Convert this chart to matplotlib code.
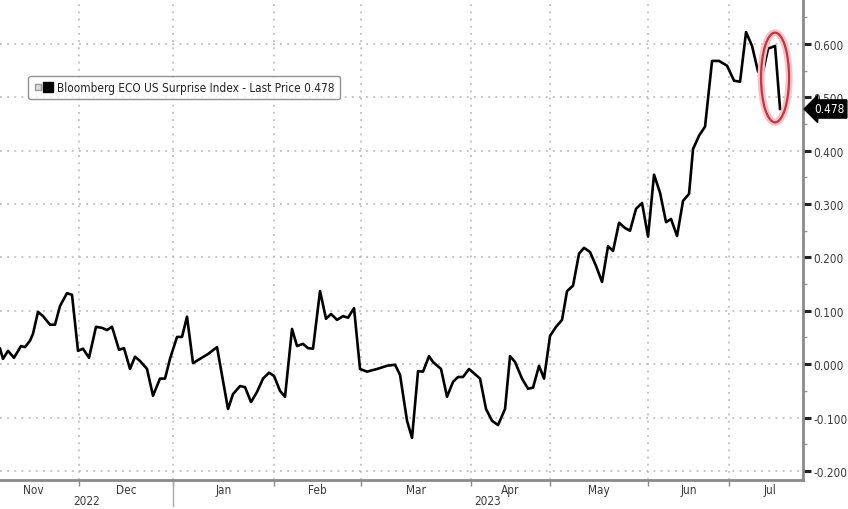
import matplotlib
matplotlib.use("Agg")
import matplotlib.pyplot as plt
import matplotlib.transforms as mtransforms
from matplotlib.patches import Ellipse
from matplotlib.lines import Line2D
from matplotlib.legend_handler import HandlerTuple
from matplotlib.ticker import MultipleLocator, FixedLocator, NullFormatter, FixedFormatter

# ---- data (x = position along the session axis, y = index value) ----
pos = [0, 3, 8, 14, 21, 25, 30, 33, 38, 43,
       50, 55, 60, 67, 72, 78, 83, 89, 96, 102,
       107, 112, 119, 124, 130, 135, 140, 147, 153, 160,
       165, 170, 177, 182, 187, 193, 200, 208, 217, 228,
       233, 240, 245, 251, 257, 263, 269, 274, 280, 285,
       292, 297, 303, 308, 313, 320, 326, 331, 337, 343,
       348, 354, 360, 367, 377, 387, 395, 400, 407, 412,
       418, 423, 429, 433, 441, 447, 453, 458, 463, 469,
       480, 486, 492, 498, 505, 510, 515, 522, 528, 533,
       539, 544, 550, 556, 562, 567, 573, 579, 584, 590,
       596, 602, 608, 613, 619, 625, 630, 636, 642, 648,
       654, 660, 666, 671, 677, 683, 689, 693, 699, 705,
       712, 719, 727, 734, 740, 746, 752, 758, 763, 768,
       775, 780]
values = [0.029, 0.010, 0.025, 0.012, 0.034, 0.032, 0.044, 0.057, 0.098, 0.090,
          0.074, 0.074, 0.109, 0.133, 0.130, 0.025, 0.029, 0.012, 0.070, 0.068,
          0.064, 0.070, 0.027, 0.030, -0.009, 0.014, 0.006, -0.009, -0.059, -0.027,
          -0.027, 0.010, 0.051, 0.051, 0.089, 0.002, 0.010, 0.019, 0.032, -0.084,
          -0.056, -0.041, -0.043, -0.071, -0.052, -0.027, -0.016, -0.022, -0.050, -0.061,
          0.066, 0.034, 0.038, 0.030, 0.029, 0.137, 0.085, 0.094, 0.083, 0.090,
          0.087, 0.105, -0.009, -0.014, -0.009, -0.003, -0.001, -0.020, -0.106, -0.138,
          -0.013, -0.014, 0.015, 0.004, -0.009, -0.061, -0.033, -0.024, -0.024, -0.009,
          -0.027, -0.084, -0.106, -0.114, -0.084, 0.015, 0.004, -0.027, -0.046, -0.044,
          -0.003, -0.027, 0.053, 0.070, 0.083, 0.137, 0.147, 0.207, 0.218, 0.210,
          0.184, 0.154, 0.221, 0.212, 0.265, 0.255, 0.250, 0.291, 0.302, 0.239,
          0.355, 0.321, 0.266, 0.272, 0.240, 0.306, 0.319, 0.403, 0.428, 0.445,
          0.568, 0.568, 0.559, 0.531, 0.529, 0.622, 0.596, 0.548, 0.548, 0.591,
          0.596, 0.478]

month_labels = ["Nov", "Dec", "Jan", "Feb", "Mar", "Apr", "May", "Jun", "Jul"]
month_bounds = [-13, 79, 173, 274, 361, 471, 550, 648, 729, 811]
year_labels = ["2022", "2023"]
year_bounds = [0, 173, 803]
last_price = 0.478
series_name = "Bloomberg ECO US Surprise Index - Last Price"

COND = dict(family="DejaVu Sans", stretch="condensed")
TXT = "#3a3a3a"

fig = plt.figure(figsize=(8.48, 5.10), dpi=100)
ax = fig.add_axes([0.0, 0.0569, 0.947, 0.9431])

line, = ax.plot(pos, values, color="black", lw=1.9, solid_joinstyle="round",
                zorder=5)

ax.set_xlim(0, 803)
ax.set_ylim(-0.2169, 0.684)

# y axis on right
ax.yaxis.tick_right()
ax.yaxis.set_major_locator(MultipleLocator(0.1))
ax.yaxis.set_minor_locator(MultipleLocator(0.05))
ax.yaxis.set_major_formatter(matplotlib.ticker.FuncFormatter(lambda v, p: f"{v:.3f}"))
ax.tick_params(axis="y", which="major", direction="out", length=6, width=2.2,
               color="#222222", labelsize=8.5, labelcolor=TXT, pad=1.5)
ax.tick_params(axis="y", which="minor", direction="out", length=3, width=1,
               color="#999999")
for lab in ax.get_yticklabels():
    lab.set_fontstretch("condensed")

# x axis: boundaries as major ticks, labels at centers
inner_bounds = month_bounds[1:-1]
centers = [(a + b) / 2 for a, b in zip(month_bounds[:-1], month_bounds[1:])]
ax.xaxis.set_major_locator(FixedLocator(inner_bounds))
ax.xaxis.set_major_formatter(NullFormatter())
ax.xaxis.set_minor_locator(FixedLocator(centers))
ax.xaxis.set_minor_formatter(FixedFormatter(month_labels))
ax.tick_params(axis="x", which="major", direction="out", length=4, width=1,
               color="#888888")
ax.tick_params(axis="x", which="minor", length=0, labelsize=8.5,
               labelcolor=TXT, pad=2.5)
for lab in ax.xaxis.get_minorticklabels():
    lab.set_fontstretch("condensed")

# grid
ax.grid(True, which="major", axis="both", color="#b5b5b5", ls=(0, (1.2, 3.5)),
        lw=1.1)
ax.set_axisbelow(True)

for s in ["left", "top"]:
    ax.spines[s].set_visible(False)
ax.spines["right"].set_color("#8a8a8a")
ax.spines["right"].set_linewidth(2)
ax.spines["bottom"].set_color("#8a8a8a")
ax.spines["bottom"].set_linewidth(2)

# year labels and separator
trans = mtransforms.blended_transform_factory(ax.transData, ax.transAxes)
for i, yl in enumerate(year_labels):
    xc = (year_bounds[i] + year_bounds[i + 1]) / 2
    ax.text(xc, -0.043, yl, transform=trans, ha="center", va="center",
            fontsize=8.5, color=TXT, **COND)
ax.plot([year_bounds[1], year_bounds[1]], [0, -0.055], transform=trans,
        color="#aaaaaa", lw=1, clip_on=False)

# legend
h_small = Line2D([], [], ls="none", marker="s", markersize=4,
                 markerfacecolor="#dddddd", markeredgecolor="#999999")
h_big = Line2D([], [], ls="none", marker="s", markersize=7,
               markerfacecolor="black", markeredgecolor="black")
leg = ax.legend([(h_small, h_big)], [f"{series_name} {last_price:.3f}"],
                handler_map={tuple: HandlerTuple(ndivide=None, pad=0.2)},
                loc="upper left", bbox_to_anchor=(0.028, 0.853),
                frameon=True, fancybox=True, handlelength=1.6,
                handletextpad=0.4, borderpad=0.45, prop=dict(size=8.5, **COND))
leg.get_frame().set_edgecolor("#777777")
leg.get_frame().set_linewidth(1.0)
for t in leg.get_texts():
    t.set_color("#222222")

# last price tag
ttag = mtransforms.blended_transform_factory(ax.transAxes, ax.transData)
ax.text(1.0135, last_price, f"{last_price:.3f}", transform=ttag, ha="left",
        va="center", color="white", fontsize=8.5, zorder=10, clip_on=False,
        bbox=dict(boxstyle="larrow,pad=0.22", fc="black", ec="black"), **COND)

# red ellipse highlight
ecx = (pos[-3] + pos[-1]) / 2 + 1
ecy = (max(values[-3:]) + min(values[-3:])) / 2
eh = (max(values[-3:]) - min(values[-3:])) + 0.05
ax.add_patch(Ellipse((ecx, ecy), 28, eh, fill=False, ec="#f4c4c8", lw=5,
                     zorder=6))
ax.add_patch(Ellipse((ecx, ecy), 28, eh, fill=False, ec="#c8323c", lw=1.6,
                     zorder=7))

fig.savefig("out.png", dpi=100, facecolor="white")
